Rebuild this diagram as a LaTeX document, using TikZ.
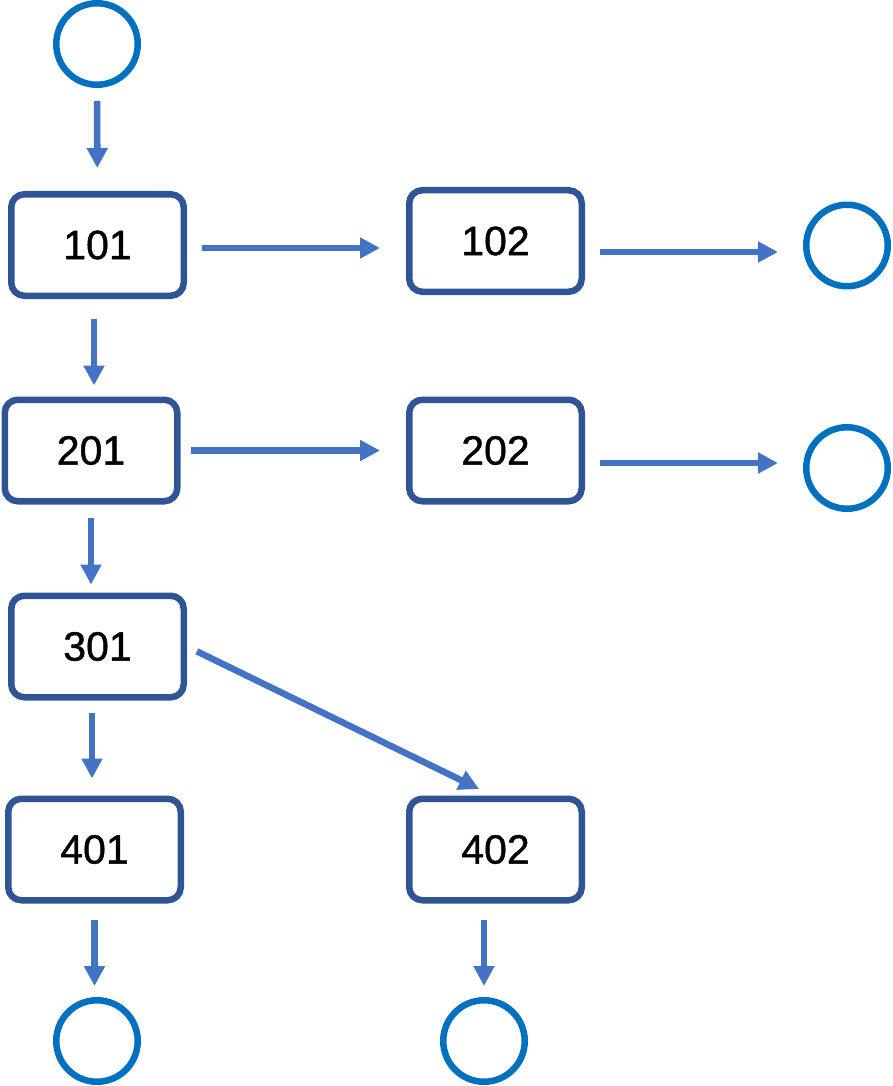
\documentclass[tikz,border=0pt]{standalone}
\usepackage{fontspec}
\setmainfont{Liberation Sans}
\newfontfamily\labelfont{Liberation Sans}[FakeBold=1]
\usetikzlibrary{arrows.meta}
\definecolor{boxline}{HTML}{2F5597}
\definecolor{endline}{HTML}{0070C0}
\definecolor{flowline}{HTML}{4472C4}
\begin{document}
\begin{tikzpicture}[x=1pt, y=-1pt, line join=round,
  stepbox/.style={draw=boxline, line width=6.5pt, rounded corners=13pt, inner sep=0pt,
    minimum width=172.5pt, minimum height=101.5pt, font=\labelfont\fontsize{41}{49}\selectfont},
  endpt/.style={draw=endline, line width=6.5pt, circle, inner sep=0pt, minimum size=81.5pt},
  flow/.style={draw=flowline, line width=6.5pt, -{Triangle[length=20pt,width=20pt]}}]

  %% ════ start / end circles ════
  \node[endpt] (start) at (97,44) {};
  \node[endpt] (end1) at (847,245.5) {};
  \node[endpt] (end2) at (847,468) {};
  \node[endpt] (end3) at (97,1041) {};
  \node[endpt] (end4) at (484,1041) {};

  %% ════ step boxes ════
  \node[stepbox] (n101) at (97.5,245) {101};
  \node[stepbox] (n102) at (495.5,241) {102};
  \node[stepbox] (n201) at (91,450.5) {201};
  \node[stepbox] (n202) at (495.5,450.5) {202};
  \node[stepbox] (n301) at (97.5,646.5) {301};
  \node[stepbox] (n401) at (94.5,849.5) {401};
  \node[stepbox] (n402) at (495.5,849.5) {402};

  %% ════ vertical flow ════
  \draw[flow, shorten <=13pt, shorten >=23pt] (start) -- (n101);
  \draw[flow, shorten <=19.5pt, shorten >=11pt] ([xshift=-3.5pt]n101.south) -- ([xshift=-3.5pt]n101.south |- n201.north);
  \draw[flow, shorten <=13pt, shorten >=8pt] (n201.south) -- (n201.south |- n301.north);
  \draw[flow, shorten <=12pt, shorten >=17pt] ([xshift=-5.5pt]n301.south) -- ([xshift=-5.5pt]n301.south |- n401.north);
  \draw[flow, shorten <=16pt, shorten >=11pt] (n401.south) -- (n401.south |- end3.north);
  \draw[flow, shorten <=16pt, shorten >=11pt] (n402.south -| end4) -- (end4.north);

  %% ════ horizontal flow ════
  \draw[flow, shorten <=15pt, shorten >=26pt] ([yshift=-3pt]n101.east) -- ([yshift=-3pt]n101.east -| n102.west);
  \draw[flow, shorten <=15pt, shorten >=25pt] ([yshift=-11pt]n102.east) -- ([yshift=-11pt]n102.east -| end1.west);
  \draw[flow, shorten <=10pt, shorten >=26pt] (n201.east) -- (n201.east -| n202.west);
  \draw[flow, shorten <=15pt, shorten >=25pt] ([yshift=-12.5pt]n202.east) -- ([yshift=-12.5pt]n202.east -| end2.west);

  %% ════ diagonal ════
  \draw[flow, shorten <=11pt, shorten >=15pt] (n301.east) -- ([xshift=-3pt]n402.north);

  \pgfresetboundingbox
  \path[use as bounding box] (0,0) rectangle (892,1086);
\end{tikzpicture}
\end{document}
